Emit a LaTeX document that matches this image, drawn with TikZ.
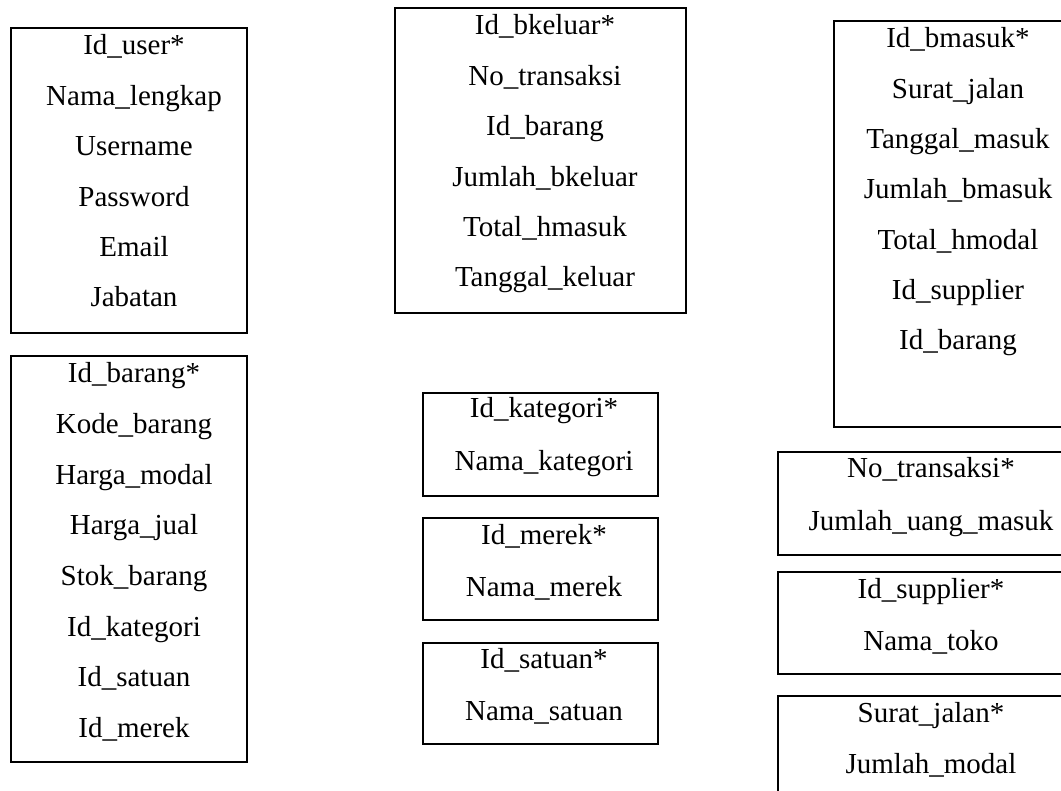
\documentclass[tikz,border=0pt]{standalone}
\usepackage{fontspec}
\setmainfont{Liberation Serif}
\tikzset{
  tbl/.style={draw=black, line width=2pt, rectangle, inner sep=0pt, anchor=north west},
  txt/.style={anchor=base, inner sep=0pt, font=\fontsize{29}{35}\selectfont}
}
\newcommand\erdbox[5]{\node[tbl, minimum width={(#4-#2)*1pt}, minimum height={(#5-#3)*1pt}] (#1) at (#2,#3) {};}
\newcommand\erdrows[5]{\foreach \t [count=\i from 0] in {#5} {\node[txt] (#1-\i) at (#2,{#3+\i*#4}) {\t};}}
\begin{document}
\begin{tikzpicture}[x=1pt,y=-1pt]
\clip (0,0) rectangle (1061,791);
\fill[white] (0,0) rectangle (1061,791);
% boxes
\erdbox{user}{10}{27}{246}{332}
\erdbox{bkeluar}{394}{7}{685}{312}
\erdbox{bmasuk}{833}{20}{1083}{426}
\erdbox{barang}{10}{355}{246}{761}
\erdbox{kategori}{422}{392}{657}{495}
\erdbox{merek}{422}{517}{657}{619}
\erdbox{satuan}{422}{642}{657}{743}
\erdbox{transaksi}{777}{451}{1083}{554}
\erdbox{supplier}{777}{571}{1083}{673}
\erdbox{suratjalan}{777}{695}{1083}{820}
% texts
\erdrows{tu}{134}{55}{50.4}{Id\_user*,Nama\_lengkap,Username,Password,Email,Jabatan}
\erdrows{tk}{545}{35}{50.4}{Id\_bkeluar*,No\_transaksi,Id\_barang,Jumlah\_bkeluar,Total\_hmasuk,Tanggal\_keluar}
\erdrows{tm}{958}{48}{50.3}{Id\_bmasuk*,Surat\_jalan,Tanggal\_masuk,Jumlah\_bmasuk,Total\_hmodal,Id\_supplier,Id\_barang}
\erdrows{tb}{134}{383}{50.6}{Id\_barang*,Kode\_barang,Harga\_modal,Harga\_jual,Stok\_barang,Id\_kategori,Id\_satuan,Id\_merek}
\erdrows{tka}{544}{418}{52.5}{Id\_kategori*,Nama\_kategori}
\erdrows{tme}{544}{544}{52.5}{Id\_merek*,Nama\_merek}
\erdrows{tsa}{544}{668}{52.5}{Id\_satuan*,Nama\_satuan}
\erdrows{ttr}{931}{478}{52}{No\_transaksi*,Jumlah\_uang\_masuk}
\erdrows{tsu}{931}{598}{52}{Id\_supplier*,Nama\_toko}
\erdrows{tsj}{931}{722}{51.5}{Surat\_jalan*,Jumlah\_modal}
\end{tikzpicture}
\end{document}
